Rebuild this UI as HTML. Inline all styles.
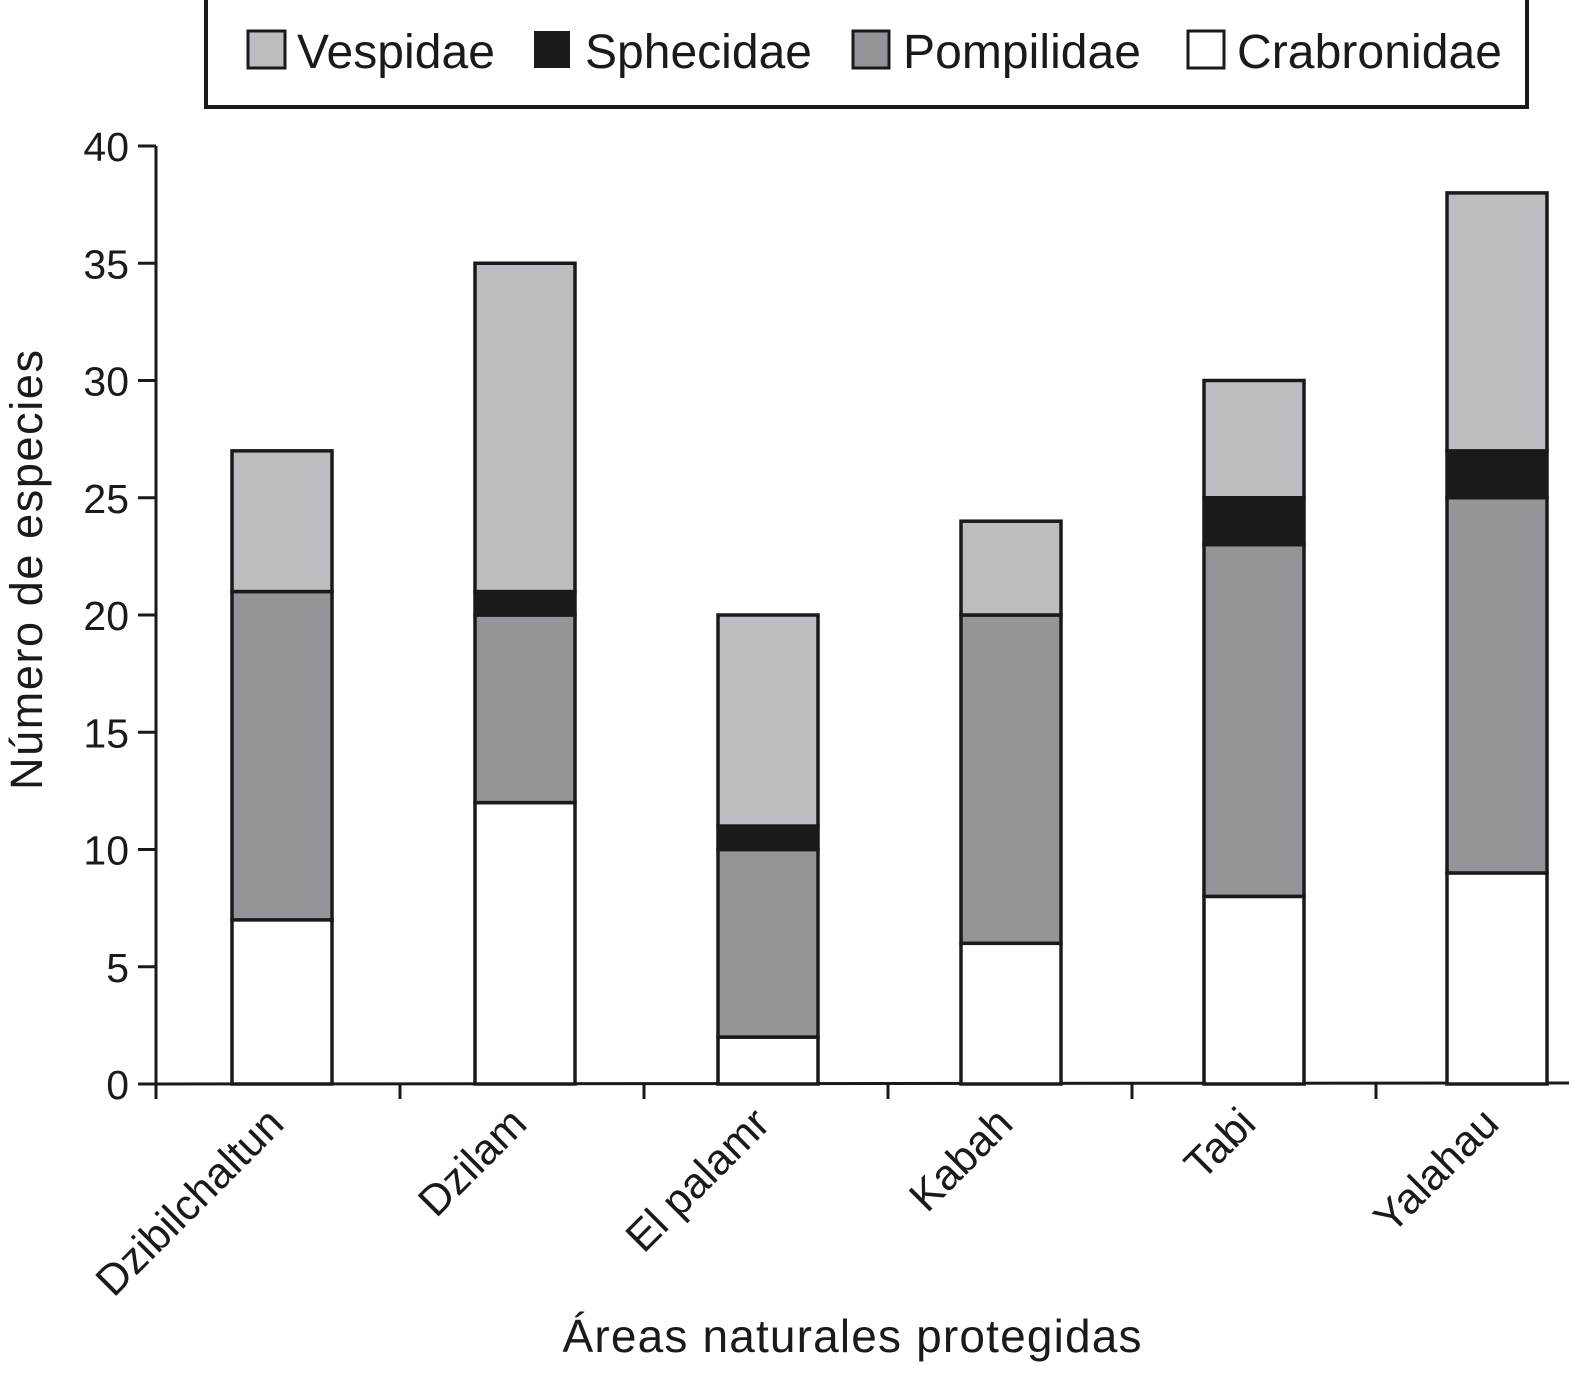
<!DOCTYPE html>
<html><head><meta charset="utf-8"><style>
html,body{margin:0;padding:0;background:#fff}
svg text{font-family:"Liberation Sans",Arial,sans-serif;fill:#1a1a1a}
</style></head><body>
<svg width="1569" height="1378" viewBox="0 0 1569 1378" xmlns="http://www.w3.org/2000/svg">
<g>
<rect x="206" y="-3" width="1321" height="110" fill="#fff" stroke="#1a1a1a" stroke-width="4"/>
<rect x="248" y="31" width="37" height="37" fill="#bcbdc0" stroke="#1a1a1a" stroke-width="3"/>
<text x="297" y="68" font-size="48" textLength="198">Vespidae</text>
<rect x="534" y="31" width="36" height="37" fill="#1a1a1a"/>
<text x="585" y="68" font-size="48" textLength="227">Sphecidae</text>
<rect x="853" y="31" width="36" height="37" fill="#939598" stroke="#1a1a1a" stroke-width="3"/>
<text x="903" y="68" font-size="48" textLength="238">Pompilidae</text>
<rect x="1188" y="31" width="36" height="37" fill="#fff" stroke="#1a1a1a" stroke-width="3"/>
<text x="1237" y="68" font-size="48" textLength="265">Crabronidae</text>
</g>
<g id="plot"></g>
<text transform="translate(42,570) rotate(-90)" text-anchor="middle" font-size="45" textLength="440">Número de especies</text>
<text x="852" y="1352" text-anchor="middle" font-size="46" textLength="579">Áreas naturales protegidas</text>
</svg>
<script>
const categories = ["Dzibilchaltun","Dzilam","El palamr","Kabah","Tabi","Yalahau"];
const crabronidae = [7,12,2,6,8,9];
const pompilidae = [14,8,8,14,15,16];
const sphecidae = [0,1,1,0,2,2];
const vespidae = [6,14,9,4,5,11];
const yTicks = [0,5,10,15,20,25,30,35,40];

const NS="http://www.w3.org/2000/svg";
const g=document.getElementById('plot');
function y(v){return 1084-v*(1084-146)/40;}
function xc(i){return 282+i*243;}
function tick(i){return 156+i*244;}
function mk(t,a){const e=document.createElementNS(NS,t);for(const k in a)e.setAttribute(k,a[k]);g.appendChild(e);return e;}

let ax=mk('line',{x1:156,y1:146,x2:156,y2:1098,stroke:'#1a1a1a','stroke-width':3});


let bx=mk('line',{x1:156,y1:1084,x2:1569,y2:1083,stroke:'#1a1a1a','stroke-width':3});


yTicks.forEach(v=>{
  const l=mk('line',{x1:138,y1:y(v),x2:156,y2:y(v),stroke:'#1a1a1a','stroke-width':3});
  
  
  const t=mk('text',{x:129,y:y(v)+15,'text-anchor':'end','font-size':41});
  
  
  t.textContent=v;
});
for(let i=0;i<6;i++){
  const l=mk('line',{x1:tick(i),y1:1084,x2:tick(i),y2:1099,stroke:'#1a1a1a','stroke-width':3});
  
  
}
const series=[[crabronidae,'#ffffff','crabronidae'],[pompilidae,'#939598','pompilidae'],[sphecidae,'#1a1a1a','sphecidae'],[vespidae,'#bcbdc0','vespidae']];
categories.forEach((c,i)=>{
  let base=0;
  series.forEach(([arr,col,nm])=>{
    const v=arr[i];
    if(v>0){
      const r=mk('rect',{x:xc(i)-50,y:y(base+v),width:100,height:y(base)-y(base+v),fill:col,stroke:'#1a1a1a','stroke-width':3.5});
      
      
    }
    base+=v;
  });
  const t=mk('text',{transform:`translate(${xc(i)+4},1126) rotate(-45)`,'text-anchor':'end','font-size':43});
  
  
  t.textContent=c;
});
</script>
</body></html>
